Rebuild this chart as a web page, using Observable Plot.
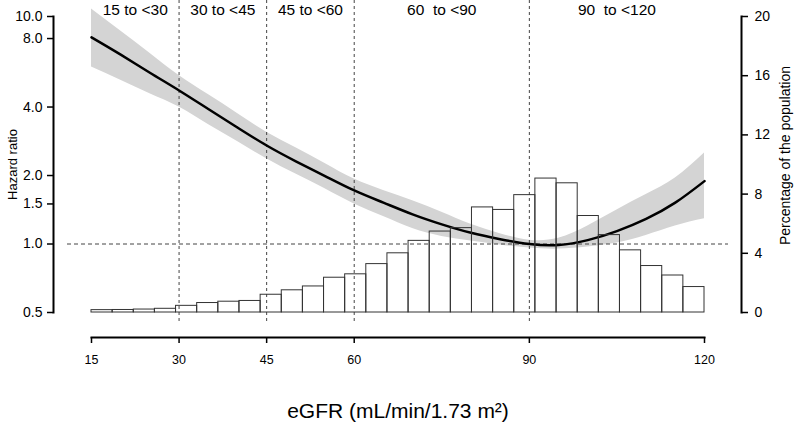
<!DOCTYPE html>
<html><head><meta charset="utf-8">
<script src="https://cdn.jsdelivr.net/npm/d3@7"></script>
<script src="https://cdn.jsdelivr.net/npm/@observablehq/plot@0.6"></script>
<style>
body{margin:0;background:#fff;}
#chart{position:relative;width:800px;height:426px;font-family:"Liberation Sans",Arial,sans-serif;}
#chart svg{position:absolute;left:0;top:0;}
#chart text{white-space:pre;}
</style></head><body><div id="chart"></div>
<script>
// Histogram bins (eGFR) and percentage of the population
const binEdges = [15,18.62,22.24,25.86,29.48,33.10,36.72,40.34,43.97,47.59,51.21,54.83,58.45,62.07,65.69,69.31,72.93,76.55,80.17,83.79,87.41,91.03,94.66,98.28,101.90,105.52,109.14,112.76,116.38,120];
const pctValues = [0.16,0.17,0.2,0.25,0.45,0.64,0.73,0.78,1.2,1.5,1.76,2.35,2.58,3.27,4.0,4.84,5.47,5.7,7.1,6.93,7.93,9.05,8.73,6.52,5.23,4.2,3.14,2.5,1.72];
// Spline curve: hazard ratio with 95% CI
const curveX = [15,20,25,30,35,40,45,50,55,60,65,70,75,80,85,90,95,100,105,110,115,120];
const hrValues = [8.1,6.8,5.66,4.73,3.92,3.25,2.71,2.31,1.99,1.72,1.52,1.35,1.22,1.12,1.05,1.0,0.99,1.04,1.14,1.29,1.52,1.89];
const ciLower = [6.0,5.25,4.58,4.0,3.35,2.82,2.37,2.03,1.75,1.50,1.32,1.17,1.08,1.03,0.99,0.96,0.95,0.97,1.01,1.09,1.2,1.29];
const ciUpper = [10.8,8.63,6.89,5.5,4.54,3.75,3.1,2.65,2.26,1.93,1.72,1.55,1.38,1.22,1.11,1.04,1.06,1.2,1.41,1.65,1.95,2.51];
// Groups
const cutpoints = [30,45,60,90];
const groupBounds = [15,30,45,60,90,120];
const groupLabels = ["15 to <30","30 to <45","45 to <60","60  to <90","90  to <120"];
// Ticks
const hrTicks = [0.5,1,1.5,2,4,8,10];
const pctTicks = [0,4,8,12,16,20];
const xTicks = [15,30,45,60,90,120];
const xTitle = "eGFR (mL/min/1.73 m²)";
const yTitleLeft = "Hazard ratio";
const yTitleRight = "Percentage of the population";

const bins = pctValues.map((p,i)=>({x1:binEdges[i], x2:binEdges[i+1], pct:p}));
const curve = curveX.map((x,i)=>({x, hr:hrValues[i], lo:ciLower[i], hi:ciUpper[i]}));
const groups = groupLabels.map((label,i)=>({label, mid:(groupBounds[i]+groupBounds[i+1])/2}));

const font = '"Liberation Sans", Arial, sans-serif';
const base = {
  width:800, height:426,
  marginLeft:53, marginRight:59, marginTop:16, marginBottom:114,
  x:{domain:[15,120], range:[91,704], axis:null},
  style:{fontFamily:font, background:"transparent", overflow:"visible", color:"#000"}
};
const chart = document.getElementById("chart");

// Layer 1: hazard ratio (log scale)
const pH = Plot.plot({
  ...base,
  y:{type:"log", domain:[0.5,10]},
  marks:[
    Plot.areaY(curve,{x:"x", y1:"lo", y2:"hi", fill:"#d4d4d4", curve:"natural"}),
    Plot.ruleX(cutpoints,{stroke:"#444", strokeWidth:1, strokeDasharray:"3,3", insetTop:-16, insetBottom:-11}),
    Plot.ruleY([1],{stroke:"#444", strokeWidth:1, strokeDasharray:"4,3", insetLeft:14, insetRight:13}),
    Plot.line(curve,{x:"x", y:"hr", stroke:"#000", strokeWidth:2.5, curve:"natural"}),
    Plot.frame({anchor:"left", stroke:"#000", strokeWidth:2}),
    Plot.axisY(hrTicks,{anchor:"left", ticks:1000, tickSize:6, tickPadding:5, strokeWidth:1.5, fontSize:14, tickFormat:d=>d.toFixed(1), label:null}),
    Plot.text(groups,{x:"mid", text:"label", frameAnchor:"top", lineAnchor:"middle", dy:-6, fontSize:15.5, fill:"#000"}),
    Plot.text([yTitleLeft],{frameAnchor:"left", textAnchor:"middle", lineAnchor:"middle", dx:-41, rotate:-90, fontSize:13, fill:"#000"})
  ]
});
chart.appendChild(pH);

// Layer 2: histogram (percentage)
const pP = Plot.plot({
  ...base,
  y:{type:"linear", domain:[0,20]},
  marks:[
    Plot.rectY(bins,{x1:"x1", x2:"x2", y:"pct", fill:"none", stroke:"#333", strokeWidth:1}),
    Plot.frame({anchor:"right", stroke:"#000", strokeWidth:2}),
    Plot.axisY(pctTicks,{anchor:"right", tickSize:6, tickPadding:7, strokeWidth:1.5, fontSize:14, label:null}),
    Plot.text([yTitleRight],{frameAnchor:"right", textAnchor:"middle", lineAnchor:"middle", dx:44, dy:-9, rotate:-90, fontSize:14, fill:"#000"})
  ]
});
chart.appendChild(pP);

// Layer 3: x axis
const pX = Plot.plot({
  width:800, height:426,
  marginLeft:91, marginRight:96, marginTop:16, marginBottom:89,
  x:{domain:[15,120]},
  style:{fontFamily:font, background:"transparent", overflow:"visible", color:"#000"},
  marks:[
    Plot.frame({anchor:"bottom", stroke:"#000", strokeWidth:2}),
    Plot.axisX(xTicks,{anchor:"bottom", tickSize:6, tickPadding:12, strokeWidth:1.5, fontSize:12.5, label:null}),
    Plot.text([xTitle],{frameAnchor:"bottom", lineAnchor:"middle", dy:74, fontSize:21, fill:"#000"})
  ]
});
chart.appendChild(pX);
</script></body></html>
